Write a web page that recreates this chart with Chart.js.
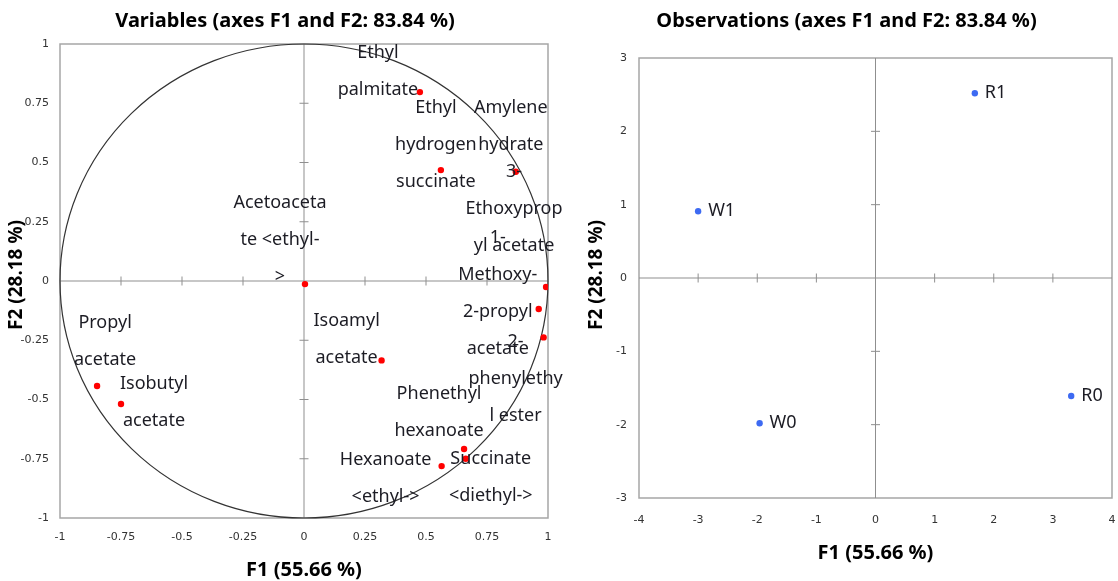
<!DOCTYPE html>
<html>
<head>
<meta charset="utf-8">
<script src="https://cdn.jsdelivr.net/npm/chart.js@4.4.1/dist/chart.umd.min.js"></script>
<style>
  body { margin: 0; background: #fff; }
  canvas { position: absolute; top: 0; }
  #varChart { left: 0; }
  #obsChart { left: 575px; }
</style>
</head>
<body>
<canvas id="varChart" width="570" height="581"></canvas>
<canvas id="obsChart" width="543" height="581"></canvas>
<script>
// correlation circle (variables)
const variableLabels = [
    ['Ethyl', 'palmitate'],
    ['Ethyl', 'hydrogen', 'succinate'],
    ['Amylene', 'hydrate'],
    ['3-', 'Ethoxyprop', 'yl acetate'],
    ['1-', 'Methoxy-', '2-propyl', 'acetate'],
    ['2-', 'phenylethy', 'l ester'],
    ['Acetoaceta', 'te <ethyl-', '>'],
    ['Isoamyl', 'acetate'],
    ['Propyl', 'acetate'],
    ['Isobutyl', 'acetate'],
    ['Phenethyl', 'hexanoate'],
    ['Hexanoate', '<ethyl->'],
    ['Succinate', '<diethyl->']
];
const variableF1 = [0.475, 0.561, 0.868, 0.992, 0.962, 0.982, 0.004, 0.318, -0.848, -0.750, 0.656, 0.564, 0.663];
const variableF2 = [0.797, 0.468, 0.461, -0.025, -0.118, -0.238, -0.013, -0.335, -0.443, -0.519, -0.709, -0.781, -0.750];
const variableTicks = [-1, -0.75, -0.5, -0.25, 0, 0.25, 0.5, 0.75, 1];

// observations
const observationLabels = ['R1', 'W1', 'W0', 'R0'];
const observationF1 = [1.68, -3.0, -1.96, 3.31];
const observationF2 = [2.52, 0.91, -1.98, -1.61];
const obsXTicks = [-4, -3, -2, -1, 0, 1, 2, 3, 4];
const obsYTicks = [-3, -2, -1, 0, 1, 2, 3];

// label placement around each point (px)
const variableLabelOffsets = [[-42, -21], [-5, -25], [-5, -45], [-32, -78], [-41, -16], [-28, 41], [-25, -44],
    [-35, -21], [8, -45], [33, -2], [-25, -37], [-56, 12], [25, 19]];

const tickFont = { family: 'DejaVu Sans', size: 11 };
const labelFont = '18px "Noto Sans"';

const pcaDecor = {
    id: 'pcaDecor',
    beforeDatasetsDraw(chart, args, opts) {
        const { ctx, chartArea: a, scales: { x, y } } = chart;
        const x0 = x.getPixelForValue(0), y0 = y.getPixelForValue(0);
        const seg = (x1, y1, x2, y2) => { ctx.beginPath(); ctx.moveTo(x1, y1); ctx.lineTo(x2, y2); ctx.stroke(); };
        ctx.save();
        ctx.strokeStyle = '#a6a6a6';
        ctx.lineWidth = 1.5;
        ctx.strokeRect(a.left, a.top, a.right - a.left, a.bottom - a.top);
        ctx.strokeStyle = '#8f8f8f';
        ctx.lineWidth = 1;
        seg(x0, a.top, x0, a.bottom);
        seg(a.left, y0, a.right, y0);
        x.ticks.forEach(t => {
            const px = x.getPixelForValue(t.value);
            if (t.value !== 0 && px > a.left + 2 && px < a.right - 2) seg(px, y0 - 4.5, px, y0 + 4.5);
        });
        y.ticks.forEach(t => {
            const py = y.getPixelForValue(t.value);
            if (t.value !== 0 && py > a.top + 2 && py < a.bottom - 2) seg(x0 - 4.5, py, x0 + 4.5, py);
        });
        if (opts.circle) {
            ctx.strokeStyle = '#333';
            ctx.lineWidth = 1.2;
            ctx.beginPath();
            ctx.ellipse(x0, y0, x.getPixelForValue(1) - x0, y0 - y.getPixelForValue(1), 0, 0, Math.PI * 2);
            ctx.stroke();
        }
        ctx.restore();
    },
    afterDatasetsDraw(chart, args, opts) {
        const { ctx, chartArea: a } = chart;
        const pts = chart.getDatasetMeta(0).data;
        ctx.save();
        ctx.fillStyle = '#1c1c24';
        ctx.font = labelFont;
        ctx.textBaseline = 'middle';
        ctx.textAlign = opts.align;
        pts.forEach((el, i) => {
            const lines = [].concat(opts.labels[i]);
            const off = opts.offsets ? opts.offsets[i] : [10, 0];
            lines.forEach((t, k) => {
                ctx.fillText(t, el.x + off[0], el.y + off[1] + (k - (lines.length - 1) / 2) * 37);
            });
        });
        // titles
        ctx.fillStyle = '#000';
        ctx.font = 'bold 20px "Noto Sans"';
        ctx.textAlign = 'center';
        ctx.fillText(opts.title, chart.width / 2, 21);
        ctx.fillText('F1 (55.66 %)', (a.left + a.right) / 2, opts.xTitleY);
        ctx.font = 'bold 19px "Noto Sans"';
        ctx.translate(opts.yTitleX, opts.yTitleY);
        ctx.rotate(-Math.PI / 2);
        ctx.fillText('F2 (28.18 %)', 0, 0);
        ctx.restore();
    }
};

const eixo = (min, max, ticks, size, pad, horizontal) => ({
    type: 'linear',
    min: min,
    max: max,
    afterBuildTicks: s => { s.ticks = ticks.map(v => ({ value: v })); },
    afterFit: s => {
        if (horizontal) { s.height = size; } else { s.width = size; }
        s.paddingLeft = s.paddingRight = s.paddingTop = s.paddingBottom = 0;
    },
    grid: { display: false, drawTicks: false },
    border: { display: false },
    ticks: { autoSkip: false, maxRotation: 0, padding: pad, font: tickFont, color: '#333', callback: v => String(v) }
});

const criarGrafico = (id, cfg) => new Chart(document.getElementById(id), {
    type: 'scatter',
    data: {
        datasets: [{
            data: cfg.xs.map((v, i) => ({ x: v, y: cfg.ys[i] })),
            backgroundColor: cfg.color,
            borderWidth: 0,
            pointRadius: 3.2
        }]
    },
    options: {
        responsive: false,
        animation: false,
        layout: { padding: cfg.padding },
        scales: { x: cfg.x, y: cfg.y },
        plugins: {
            legend: { display: false },
            tooltip: { enabled: false },
            pcaDecor: cfg.decor
        }
    },
    plugins: [pcaDecor]
});

criarGrafico('varChart', {
    xs: variableF1,
    ys: variableF2,
    color: '#ff0000',
    padding: { left: 0, top: 44, right: 22, bottom: 0 },
    x: eixo(-1, 1, variableTicks, 63, 13, true),
    y: eixo(-1, 1, variableTicks, 60, 11, false),
    decor: {
        circle: true, labels: variableLabels, offsets: variableLabelOffsets, align: 'center',
        title: 'Variables (axes F1 and F2: 83.84 %)',
        xTitleY: 570, yTitleX: 17, yTitleY: 275
    }
});

criarGrafico('obsChart', {
    xs: observationF1,
    ys: observationF2,
    color: '#3d6af2',
    padding: { left: 0, top: 58, right: 6, bottom: 0 },
    x: eixo(-4, 4, obsXTicks, 83, 16, true),
    y: eixo(-3, 3, obsYTicks, 64, 12, false),
    decor: {
        circle: false, labels: observationLabels, offsets: null, align: 'left',
        title: 'Observations (axes F1 and F2: 83.84 %)',
        xTitleY: 553, yTitleX: 22, yTitleY: 275
    }
});
</script>
</body>
</html>
